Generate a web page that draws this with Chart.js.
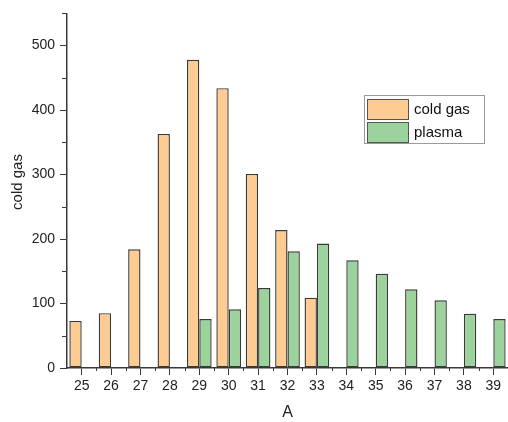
<!DOCTYPE html>
<html>
<head>
<meta charset="utf-8">
<script src="https://cdn.jsdelivr.net/npm/chart.js@4"></script>
<style>
  html, body { margin: 0; padding: 0; background: #fff; }
  #wrap { width: 508px; height: 422px; }
</style>
</head>
<body>
<div id="wrap"><canvas id="grafico"></canvas></div>
<script>
// --- datos ---
const categorias = ['25', '26', '27', '28', '29', '30', '31', '32', '33', '34', '35', '36', '37', '38', '39'];
const coldGas = [73, 85, 184, 363, 478, 434, 301, 214, 109, null, null, null, null, null, null];
const plasma = [null, null, null, null, 76, 91, 124, 181, 193, 167, 146, 122, 105, 84, 76];
const yTicks = [0, 100, 200, 300, 400, 500];
const yMinor = [50, 150, 250, 350, 450, 550];

const colorNaranja = '#FECC93';
const colorVerde = '#9CD39C';
const colorEje = '#3a3a3a';
const fuente = "'Liberation Sans', Arial, sans-serif";

// ticks menores, titulo Y y leyenda dentro del area
const extras = {
  id: 'extras',
  afterDraw(chart) {
    const ctx = chart.ctx;
    const x = chart.scales.x, y = chart.scales.y;
    ctx.save();
    ctx.strokeStyle = colorEje;
    ctx.lineWidth = 1;
    yMinor.forEach(v => {
      const py = Math.round(y.getPixelForValue(v)) + 0.5;
      ctx.beginPath();
      ctx.moveTo(x.left - 5, py);
      ctx.lineTo(x.left, py);
      ctx.stroke();
    });
    for (let i = 0; i < categorias.length - 1; i++) {
      const px = Math.round((x.getPixelForValue(i) + x.getPixelForValue(i + 1)) / 2) + 0.5;
      ctx.beginPath();
      ctx.moveTo(px, y.bottom);
      ctx.lineTo(px, y.bottom + 3);
      ctx.stroke();
    }

    // titulo del eje Y (algo por encima del centro, como en el original)
    ctx.save();
    ctx.translate(18, 182);
    ctx.rotate(-Math.PI / 2);
    ctx.font = '15px ' + fuente;
    ctx.fillStyle = '#222';
    ctx.textAlign = 'center';
    ctx.textBaseline = 'middle';
    ctx.fillText('cold gas', 0, 0);
    ctx.restore();

    // leyenda
    const bx = 364.5, by = 95.5, bw = 120, bh = 48;
    ctx.fillStyle = '#fff';
    ctx.fillRect(bx, by, bw, bh);
    ctx.strokeStyle = '#9a9a9a';
    ctx.strokeRect(bx, by, bw, bh);
    const items = chart.data.datasets;
    ctx.font = '15px ' + fuente;
    ctx.textBaseline = 'middle';
    items.forEach((ds, i) => {
      const sy = 99.5 + i * 23;
      ctx.fillStyle = ds.backgroundColor;
      ctx.fillRect(367.5, sy, 41, 20);
      ctx.strokeStyle = '#555';
      ctx.strokeRect(367.5, sy, 41, 20);
      ctx.fillStyle = '#111';
      ctx.fillText(ds.label, 414, sy + 10);
    });
    ctx.restore();
  }
};

new Chart(document.getElementById('grafico'), {
  type: 'bar',
  data: {
    labels: categorias,
    datasets: [
      { label: 'cold gas', data: coldGas, backgroundColor: colorNaranja, borderColor: '#3a3a3a', borderWidth: 1.4, borderSkipped: false },
      { label: 'plasma', data: plasma, backgroundColor: colorVerde, borderColor: '#3a3a3a', borderWidth: 1.4, borderSkipped: false }
    ]
  },
  options: {
    responsive: true,
    maintainAspectRatio: false,
    animation: false,
    categoryPercentage: 0.84,
    barPercentage: 1,
    layout: { padding: { top: 12, right: 0, left: 0, bottom: 0 } },
    plugins: { legend: { display: false }, tooltip: { enabled: false } },
    scales: {
      x: {
        offset: true,
        grid: { offset: false, drawOnChartArea: false, drawTicks: true, tickLength: 7, color: colorEje },
        border: { display: true, color: colorEje, width: 1.5 },
        ticks: { color: '#222', font: { family: fuente, size: 14 }, padding: 3, maxRotation: 0 },
        title: { display: true, text: 'A', color: '#222', font: { family: fuente, size: 16 }, padding: { top: 0, bottom: 0 } },
        afterFit(scale) { scale.height = 54; }
      },
      y: {
        min: 0,
        max: 550,
        afterBuildTicks(scale) { scale.ticks = yTicks.map(v => ({ value: v })); },
        grid: { drawOnChartArea: false, drawTicks: true, tickLength: 7, color: colorEje },
        border: { display: true, color: colorEje, width: 1.5 },
        ticks: { color: '#222', font: { family: fuente, size: 14 }, padding: 5 },
        afterFit(scale) { scale.width = 67; }
      }
    }
  },
  plugins: [extras]
});
</script>
</body>
</html>
